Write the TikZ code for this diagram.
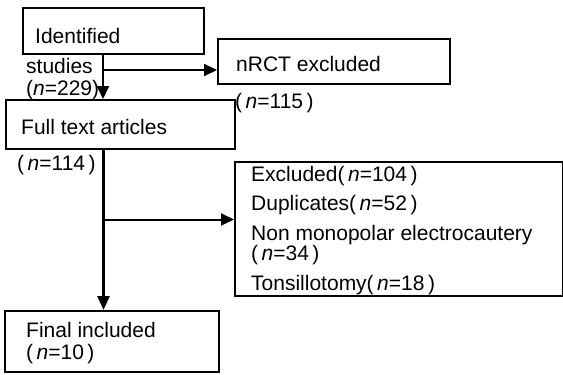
\documentclass[tikz,border=0pt]{standalone}
\usepackage{fontspec}
\setmainfont{Liberation Sans}
\usetikzlibrary{arrows.meta}
\begin{document}
\begin{tikzpicture}[x=1pt,y=-1pt,
  box/.style={draw=black, line width=1.8pt, rectangle, inner sep=0pt, anchor=north west},
  lbl/.style={anchor=base west, inner sep=0pt, font=\fontsize{21}{24}\selectfont},
  arr/.style={line width=2pt, -{Triangle[length=13pt,width=12pt]}},
  thick/.style={line width=2.8pt, -{Triangle[length=14pt,width=12pt]}}]
\useasboundingbox[fill=white] (0,0) rectangle (563,375);
% boxes
\node[box, minimum width=181pt, minimum height=46pt] (ident) at (22,7) {};
\node[box, minimum width=232pt, minimum height=45pt] (nrct) at (217,38) {};
\node[box, minimum width=229pt, minimum height=49pt] (full) at (5,99) {};
\node[box, minimum width=328pt, minimum height=134pt] (excl) at (234,161) {};
\node[box, minimum width=214pt, minimum height=61pt] (final) at (4,310) {};
% texts
\node[lbl] (t1) at (35,43.3) {Identified};
\node[lbl] (t2) at (26,73) {studies};
\node[lbl] (t3) at (26,95) {(\textit{n}=229)};
\node[lbl] (t4) at (236,71.7) {nRCT excluded};
\node[lbl] (t5) at (235,108) {(\,\textit{n}=115\,)};
\node[lbl] (t6) at (21,134) {Full text articles};
\node[lbl] (t7) at (17,170) {(\,\textit{n}=114\,)};
\node[lbl] (t8) at (251,181.7) {Excluded(\,\textit{n}=104\,)};
\node[lbl] (t9) at (251,210) {Duplicates(\,\textit{n}=52\,)};
\node[lbl] (t10) at (251,240) {Non monopolar electrocautery};
\node[lbl] (t11) at (251,260) {(\,\textit{n}=34\,)};
\node[lbl] (t12) at (251,290) {Tonsillotomy(\,\textit{n}=18\,)};
\node[lbl] (t13) at (26,337) {Final included};
\node[lbl] (t14) at (26,359) {(\,\textit{n}=10\,)};
% connectors
\coordinate (j1) at (103,70);
\coordinate (j2) at (103.5,219.5);
\draw[arr] (j1 |- ident.south) -- (j1 |- full.north);
\draw[arr] (j1) -- (j1 -| nrct.west);
\draw[thick] (j2 |- full.south) -- (j2 |- final.north);
\draw[arr] (j2) -- (j2 -| excl.west);
\end{tikzpicture}
\end{document}
